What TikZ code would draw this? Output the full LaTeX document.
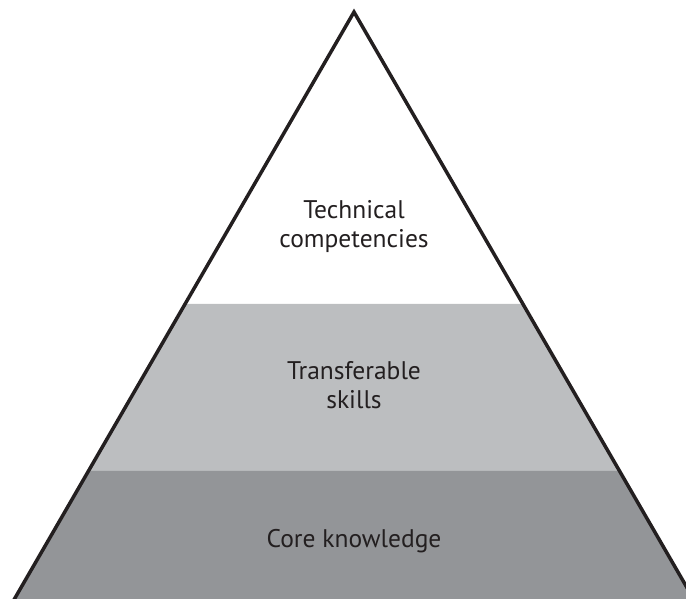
\documentclass[tikz,border=0pt]{standalone}
\usepackage{fontspec}
\setmainfont{PT Sans}
\usetikzlibrary{calc}
\definecolor{tierlight}{HTML}{BCBEC0}
\definecolor{tierdark}{HTML}{939598}
\definecolor{inkdark}{HTML}{231F20}

\begin{document}
\begin{tikzpicture}[x=1pt, y=1pt]
        % Define styles for the tiers
        \tikzstyle{tierlabel} = [text=inkdark, align=center, inner sep=0pt, font=\fontsize{25.5}{29}\selectfont]
        \tikzstyle{outline} = [draw=inkdark, line width=3.5pt, line join=miter]
        \useasboundingbox (0,0) rectangle (686,598);
        \clip (0,0) rectangle (686,598);

        % Corners of the pyramid
        \coordinate (apex) at (354,586);
        \coordinate (left) at (15,0);
        \coordinate (right) at (693,0);

        % Fill the two lower tiers
        \fill[tierlight] ($(apex)!0.498!(left)$) -- ($(apex)!0.498!(right)$)
            -- ($(apex)!0.783!(right)$) -- ($(apex)!0.783!(left)$) -- cycle;
        \fill[tierdark] ($(apex)!0.783!(left)$) -- ($(apex)!0.783!(right)$)
            -- ($(apex)!1.05!(right)$) -- ($(apex)!1.05!(left)$) -- cycle;

        % Draw the outline
        \draw[outline] ($(apex)!1.05!(left)$) -- (apex) -- ($(apex)!1.05!(right)$);

        % Draw labels
        \node[tierlabel] (technical) at (354,371) {Technical\\competencies};
        \node[tierlabel] (transferable) at (354,213) {Transferable\\skills};
        \node[tierlabel] (core) at (354,57) {Core knowledge};
    \end{tikzpicture}
\end{document}
